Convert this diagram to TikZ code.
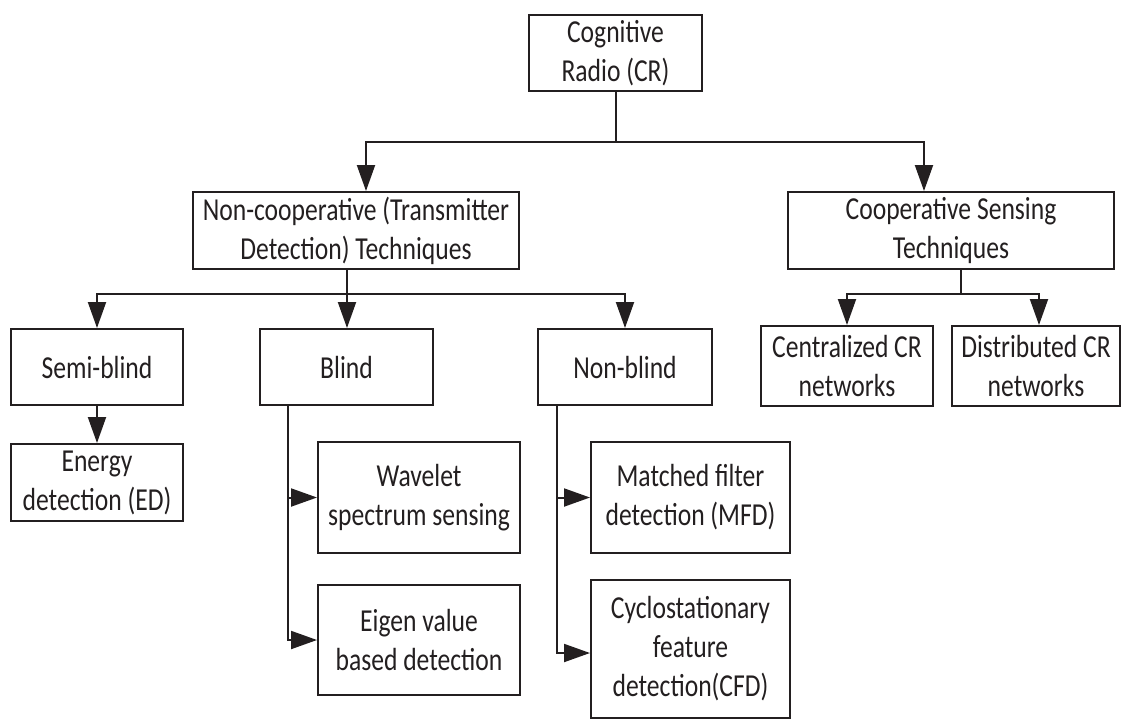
\documentclass[tikz,border=0pt]{standalone}
\usepackage{fontspec}
\setmainfont{Carlito}[FakeStretch=0.8]
\usepackage{xcolor}
\usetikzlibrary{
  arrows.meta,
  positioning,
  calc
}
\definecolor{CRink}{HTML}{231F20}

\begin{document}
\begin{tikzpicture}[
    x=0.5pt, y=-0.5pt,
    >={Triangle[length=13pt,width=9pt]},
    font=\fontsize{16}{19.5}\selectfont,
    crbox/.style={
      rectangle, draw=CRink, text=CRink,
      align=center, inner sep=0pt,
      line width=1pt
    },
    crarr/.style={->, draw=CRink, line width=1pt},
    crline/.style={draw=CRink, line width=1pt}
  ]

  \useasboundingbox (0,0) rectangle (1121,720);

  % Level 1: root
  \node[crbox, minimum width=86.5pt, minimum height=38pt] (cr) at (615.5,53)
    {Cognitive\\Radio (CR)};

  % Level 2: two families of techniques
  \node[crbox, minimum width=163pt, minimum height=38.5pt] (noncoop) at (356,230.5)
    {Non-cooperative (Transmitter\\Detection) Techniques};
  \node[crbox, minimum width=163pt, minimum height=38.5pt] (coop) at (951,230.5)
    {Cooperative Sensing\\Techniques};

  % Level 3: detector classes and cooperative networks
  \node[crbox, minimum width=86pt, minimum height=38pt] (semi) at (97,367) {Semi-blind};
  \node[crbox, minimum width=86.5pt, minimum height=38pt] (blind) at (346.5,367) {Blind};
  \node[crbox, minimum width=87pt, minimum height=38pt] (nonblind) at (625,367) {Non-blind};
  \node[crbox, minimum width=86pt, minimum height=40pt] (central) at (847,366)
    {Centralized CR\\networks};
  \node[crbox, minimum width=84pt, minimum height=40pt] (distrib) at (1036,366)
    {Distributed CR\\networks};

  % Level 4: individual methods
  \node[crbox, minimum width=86pt, minimum height=38.5pt] (energy) at (97,482.5)
    {Energy\\detection (ED)};
  \node[crbox, minimum width=101pt, minimum height=55.5pt] (wavelet) at (419,497.5)
    {Wavelet\\spectrum sensing};
  \node[crbox, minimum width=101pt, minimum height=55pt] (eigen) at (419,640)
    {Eigen value\\based detection};
  \node[crbox, minimum width=99.5pt, minimum height=55.5pt] (matched) at (690.5,497.5)
    {Matched filter\\detection (MFD)};
  \node[crbox, minimum width=99.5pt, minimum height=69pt] (cyclo) at (690.5,649)
    {Cyclostationary\\feature\\detection(CFD)};

  % Junctions
  \coordinate (j1) at (616,142);
  \coordinate (j2) at (347,294);
  \coordinate (j3) at (961,294);

  % Root split
  \draw[crline] (cr.south -| j1) -- (j1);
  \draw[crarr] (j1) -| ([xshift=5pt]noncoop.north);
  \draw[crarr] (j1) -| ([xshift=-13.5pt]coop.north);

  % Non-cooperative split
  \draw[crline] (noncoop.south -| j2) -- (j2);
  \draw[crarr] (j2) -| (semi.north);
  \draw[crarr] (j2) -- (blind.north -| j2);
  \draw[crarr] (j2) -| (nonblind.north);

  % Cooperative split
  \draw[crline] (coop.south -| j3) -- (j3);
  \draw[crarr] (j3) -| (central.north);
  \draw[crarr] (j3) -| ([xshift=1.5pt]distrib.north);

  % Methods
  \draw[crarr] (semi) -- (energy);
  \draw[crarr] ([xshift=14.5pt]blind.south west) |- (wavelet.west);
  \draw[crarr] ([xshift=14.5pt]blind.south west) |- (eigen.west);
  \draw[crarr] ([xshift=10pt]nonblind.south west) |- (matched.west);
  \draw[crarr] ([xshift=10pt]nonblind.south west) |- ([yshift=-2pt]cyclo.west);
\end{tikzpicture}
\end{document}
